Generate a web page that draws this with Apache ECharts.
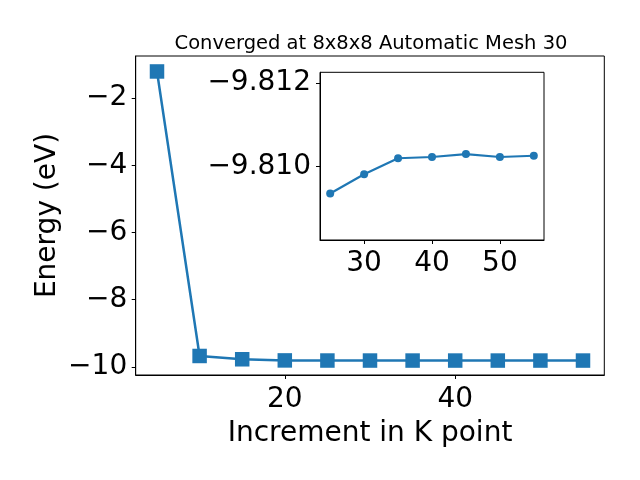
<!DOCTYPE html>
<html><head><meta charset="utf-8">
<script src="https://cdn.jsdelivr.net/npm/echarts@6/dist/echarts.min.js"></script>
<style>html,body{margin:0;padding:0;background:#fff}#c{width:640px;height:480px}</style>
</head><body><div id="c"></div>
<script>
const kPoints = [5, 10, 15, 20, 25, 30, 35, 40, 45, 50, 55];
const energies = [-1.21, -9.674, -9.772, -9.806, -9.80936, -9.80982, -9.8102, -9.81023, -9.8103, -9.81023, -9.81026];
const mainXTicks = [20, 40];
const mainYTicks = [-10, -8, -6, -4, -2];
const insetXTicks = [30, 40, 50];
const insetYTicks = [-9.812, -9.810];
const insetStartK = 25;

const FONT = 'DejaVu Sans';
const C = '#1f77b4';
const FS = 28;
const minus = (s) => s.replace('-', '\u2212');

const mainData = kPoints.map((k, i) => [k, energies[i]]);
const insetData = kPoints.map((k, i) => [k, energies[i]]).filter(d => d[0] >= insetStartK);

function axisCommon(ticks, fmt, size, margin) {
  return {
    axisLine: { show: true, onZero: false, lineStyle: { color: '#000', width: 1 } },
    axisTick: { show: true, inside: false, length: 4, customValues: ticks, lineStyle: { color: '#000', width: 1 } },
    axisLabel: { show: true, customValues: ticks, formatter: fmt, fontFamily: FONT, fontSize: size, color: '#000', margin: margin },
    splitLine: { show: false }
  };
}

const option = {
  animation: false,
  backgroundColor: '#fff',
  title: {
    text: 'Converged at 8x8x8 Automatic Mesh 30',
    left: 366, top: 29, textAlign: 'center',
    textStyle: { fontFamily: FONT, fontSize: 19.5, fontWeight: 'normal', color: '#000' }
  },
  grid: [
    { left: 135.7, top: 56, right: 35.7, bottom: 105, show: true, borderColor: '#000', borderWidth: 1, backgroundColor: 'transparent' },
    { left: 320, top: 72.3, width: 224, height: 167.7, show: true, borderColor: '#000', borderWidth: 1, backgroundColor: '#fff', z: 5 }
  ],
  xAxis: [
    Object.assign({ type: 'value', gridIndex: 0, min: 2.5, max: 57.5,
      name: 'Increment in K point', nameLocation: 'middle', nameGap: 45, nameMoveOverlap: false,
      nameTextStyle: { fontFamily: FONT, fontSize: FS, color: '#000' } },
      axisCommon(mainXTicks, v => String(v), FS, 11)),
    Object.assign({ type: 'value', gridIndex: 1, min: 23.5, max: 56.5, z: 6 },
      axisCommon(insetXTicks, v => String(v), FS, 10))
  ],
  yAxis: [
    Object.assign({ type: 'value', gridIndex: 0, min: -10.24, max: -0.75,
      name: 'Energy (eV)', nameLocation: 'middle', nameGap: 74, nameMoveOverlap: false,
      nameTextStyle: { fontFamily: FONT, fontSize: FS, color: '#000' } },
      axisCommon(mainYTicks, v => minus(String(v)), FS, 8.5)),
    Object.assign({ type: 'value', gridIndex: 1, min: -9.81225, max: -9.80825, inverse: true, z: 6 },
      axisCommon(insetYTicks, v => minus(v.toFixed(3)), FS, 9))
  ],
  series: [
    { type: 'line', xAxisIndex: 0, yAxisIndex: 0, data: mainData,
      symbol: 'rect', symbolSize: 14.5, showAllSymbol: true,
      lineStyle: { color: C, width: 2.5 }, itemStyle: { color: C, borderWidth: 0 } },
    { type: 'line', xAxisIndex: 1, yAxisIndex: 1, data: insetData, z: 7,
      symbol: 'circle', symbolSize: 8, showAllSymbol: true,
      lineStyle: { color: C, width: 2.2 }, itemStyle: { color: C, borderWidth: 0 } }
  ]
};
const chart = echarts.init(document.getElementById('c'), null, { renderer: 'canvas' });
chart.setOption(option);
</script></body></html>
